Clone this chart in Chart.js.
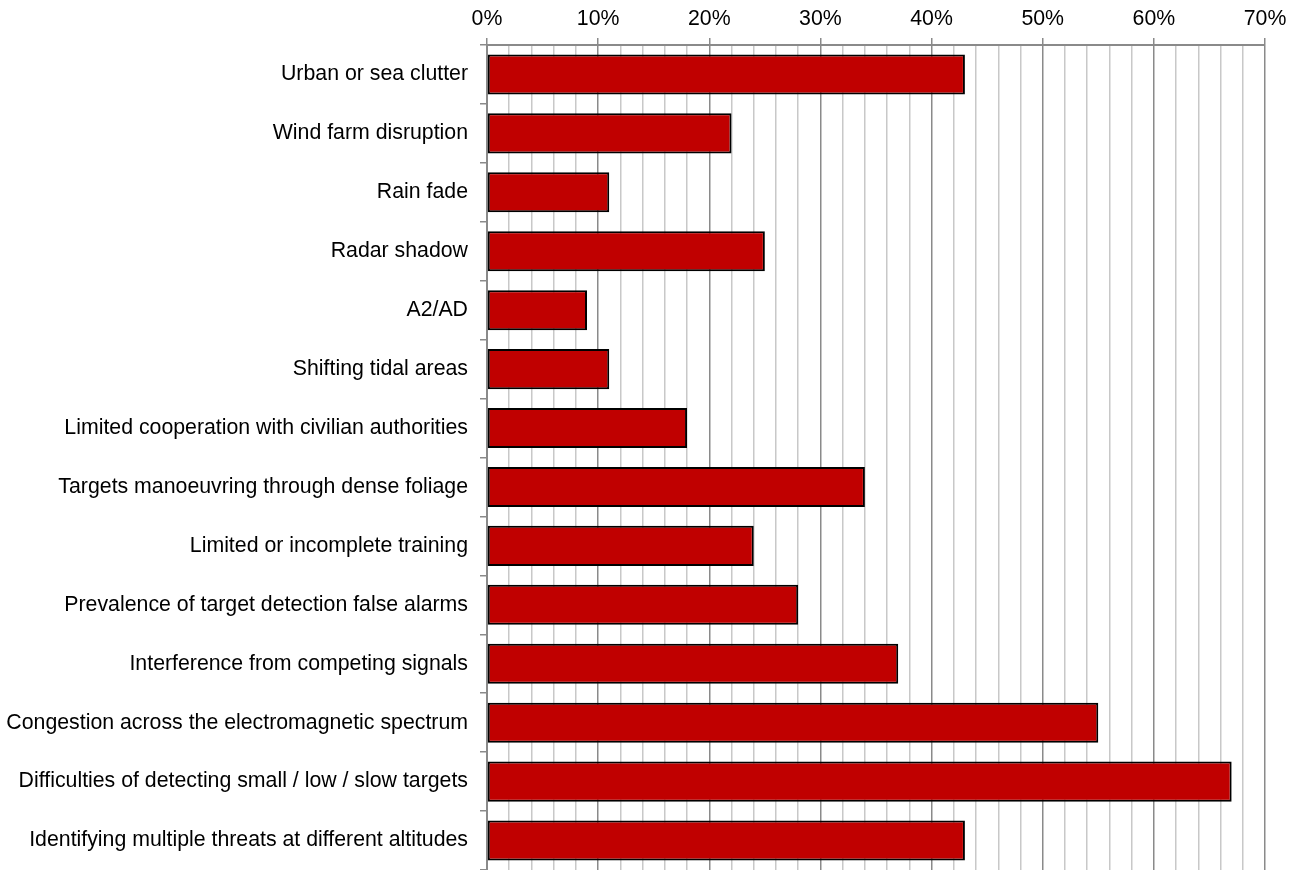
<!DOCTYPE html>
<html>
<head>
<meta charset="utf-8">
<title>Radar detection challenges</title>
<script src="https://cdn.jsdelivr.net/npm/chart.js@4/dist/chart.umd.min.js"></script>
<style>
  html, body { margin: 0; padding: 0; background: #fff; }
  #wrap { width: 1303px; height: 870px; }
</style>
</head>
<body>
<div id="wrap"><canvas id="challengesChart" width="1303" height="870"></canvas></div>
<script>
// categories, top to bottom
var challenges = [
  "Urban or sea clutter",
  "Wind farm disruption",
  "Rain fade",
  "Radar shadow",
  "A2/AD",
  "Shifting tidal areas",
  "Limited cooperation with civilian authorities",
  "Targets manoeuvring through dense foliage",
  "Limited or incomplete training",
  "Prevalence of target detection false alarms",
  "Interference from competing signals",
  "Congestion across the electromagnetic spectrum",
  "Difficulties of detecting small / low / slow targets",
  "Identifying multiple threats at different altitudes"
];
// share of respondents, %
var shares = [43, 22, 11, 25, 9, 11, 18, 34, 24, 28, 37, 55, 67, 43];
// axis range and label step, %
var axisMax = 70;
var minorStep = 2;
var labelStep = 10;

var labelFont = { family: '"Liberation Sans", Arial, sans-serif', size: 21.3 };

function isMajor(v) {
  return v % labelStep === 0;
}

function createChallengesChart() {
  var ctx = document.getElementById('challengesChart').getContext('2d');

  window.challengesChart = new Chart(ctx, {
    type: 'bar',
    data: {
      labels: challenges,
      datasets: [{
        data: shares,
        backgroundColor: '#C00000',
        borderColor: '#000000',
        borderWidth: 2,
        borderSkipped: false,
        barPercentage: 0.68,
        categoryPercentage: 1
      }]
    },
    options: {
      indexAxis: 'y',
      responsive: false,
      animation: false,
      layout: { padding: { left: 0, right: 38, top: 0, bottom: 0 } },
      plugins: {
        legend: { display: false },
        tooltip: { enabled: false }
      },
      scales: {
        x: {
          position: 'top',
          min: 0,
          max: axisMax,
          afterFit: function (scale) { scale.height = 45; },
          ticks: {
            stepSize: minorStep,
            autoSkip: false,
            maxRotation: 0,
            padding: 6,
            color: '#000',
            font: labelFont,
            callback: function (v) { return isMajor(v) ? v + '%' : ''; }
          },
          grid: {
            color: function (c) { return isMajor(c.tick.value) ? '#8a8a8a' : '#c8c8c8'; },
            tickColor: function (c) { return isMajor(c.tick.value) ? '#8a8a8a' : 'rgba(0,0,0,0)'; },
            lineWidth: 1.5,
            tickLength: 7
          },
          border: { display: true, color: '#8a8a8a', width: 2 }
        },
        y: {
          afterFit: function (scale) {
            // let the category rows run right down to the bottom edge
            scale.width = 487;
            scale.paddingTop = 0;
            scale.paddingBottom = 0;
          },
          ticks: {
            padding: 12,
            color: '#000',
            font: labelFont
          },
          grid: {
            offset: true,
            drawOnChartArea: false,
            color: '#8a8a8a',
            lineWidth: 1.5,
            tickLength: 7
          },
          border: { display: true, color: '#8a8a8a', width: 2 }
        }
      }
    }
  });
}

document.addEventListener('DOMContentLoaded', function () {
  createChallengesChart();
});
</script>
</body>
</html>
